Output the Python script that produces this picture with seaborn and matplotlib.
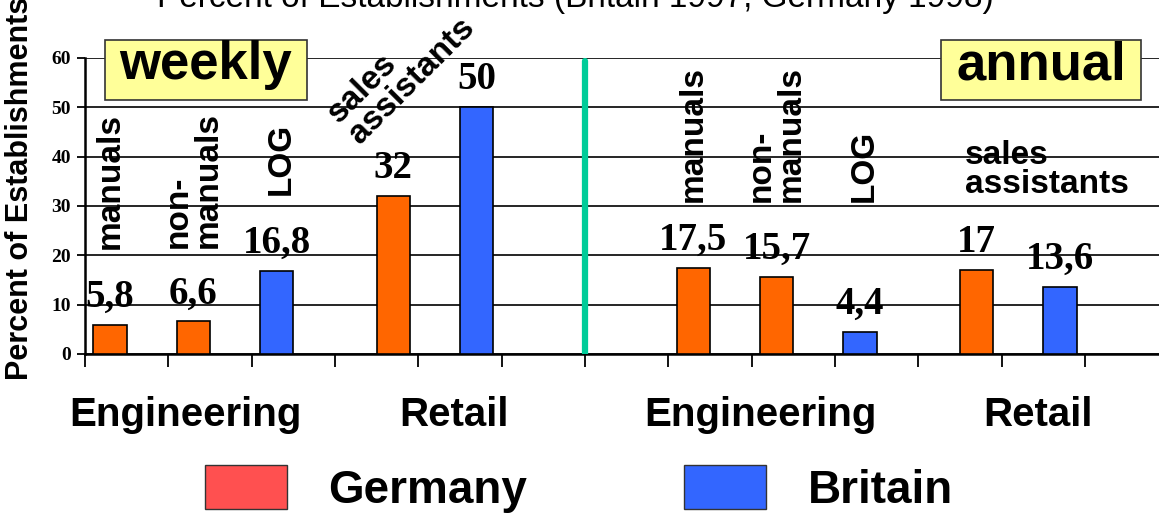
import numpy as np
import pandas as pd
import matplotlib
matplotlib.use("Agg")
import matplotlib.pyplot as plt
import seaborn as sns
from matplotlib.patches import Patch, Rectangle

# ---------------- data ----------------
slot_names = [f"s{i}" for i in range(13)]
bar_slot = ["s0", "s1", "s2", "s3", "s4", "s7", "s8", "s9", "s10", "s11"]
bar_side = ["L", "L", "L", "R", "R", "L", "L", "L", "R", "R"]
bar_country = ["Germany", "Germany", "Britain", "Germany", "Britain",
               "Germany", "Germany", "Britain", "Germany", "Britain"]
bar_value = [5.8, 6.6, 16.8, 32, 50, 17.5, 15.7, 4.4, 17, 13.6]
value_labels = ["5,8", "6,6", "16,8", "32", "50", "17,5", "15,7", "4,4", "17", "13,6"]

group_labels = ["Engineering", "Retail", "Engineering", "Retail"]
group_x = [0.7, 3.93, 7.61, 10.94]

yticks = [0, 10, 20, 30, 40, 50, 60]
title = "Percent of Establishments (Britain 1997, Germany 1998)"
ylabel = "Percent of Establishments"

bar_colors = {"Germany": "#FF6600", "Britain": "#3366FF"}
legend_colors = {"Germany": "#FF5050", "Britain": "#3366FF"}

# ---------------- style ----------------
sns.set_style("white")
plt.rcParams["font.family"] = ["Liberation Sans", "DejaVu Sans"]
plt.rcParams["text.color"] = "black"
plt.rcParams["axes.labelcolor"] = "black"
plt.rcParams["xtick.color"] = "black"
plt.rcParams["ytick.color"] = "black"

W, H = 1159, 518
fig = plt.figure(figsize=(W / 100, H / 100), dpi=100)
ax = fig.add_axes([85 / W, 1 - 354 / H, 1083.3 / W, 296 / H])

df = pd.DataFrame({"slot": bar_slot, "value": bar_value, "side": bar_side})
sns.barplot(data=df, x="slot", y="value", hue="side", order=slot_names,
            hue_order=["L", "R"], dodge=True, width=0.8, errorbar=None,
            palette=["#FF6600", "#3366FF"], edgecolor="black", linewidth=1.2,
            legend=False, ax=ax, zorder=3)

lookup = {(s, sd): (c, lab) for s, sd, c, lab in zip(bar_slot, bar_side, bar_country, value_labels)}
for p in ax.patches:
    if p.get_height() == 0 and p.get_width() == 0:
        continue
    xc = p.get_x() + p.get_width() / 2
    idx = int(round(xc))
    side = "L" if xc < idx else "R"
    key = (slot_names[idx], side)
    if key not in lookup:
        continue
    country, lab = lookup[key]
    p.set_facecolor(bar_colors[country])
    ax.annotate(lab, (xc, p.get_height()), xytext=(0, 13), textcoords="offset points",
                ha="center", va="baseline", fontfamily="Liberation Serif",
                fontweight="bold", fontsize=28, color="black", zorder=5)

ax.set_xlim(-0.5, 12.5)
ax.set_ylim(0, 60)
ax.set_yticks(yticks)
ax.set_yticklabels([str(v) for v in yticks], fontfamily="Liberation Serif",
                   fontweight="bold", fontsize=14, color="black")
ax.set_xticks(np.arange(-0.5, 13, 1))
ax.set_xticklabels([])
ax.set_xlabel("")
ax.set_ylabel("")
ax.tick_params(axis="x", direction="out", length=9, width=1.3, color="black", bottom=True)
ax.tick_params(axis="y", direction="out", length=6, width=1.3, color="black", pad=4, left=True)
ax.yaxis.grid(True, color="black", linewidth=1.2)
ax.set_axisbelow(True)
for s in ["top", "right"]:
    ax.spines[s].set_visible(False)
for s in ["left", "bottom"]:
    ax.spines[s].set_color("black")
    ax.spines[s].set_linewidth(1.8)

# green divider
ax.axvline(5.5, ymin=0, ymax=59.3 / 60, color="#00CC99", linewidth=4.5, zorder=4)

# category labels
lab_kw = dict(fontweight="bold", fontsize=24, color="black", zorder=5)
ax.text(-0.2, 21.3, "manuals", rotation=90, ha="center", va="bottom", **lab_kw)
ax.text(0.8, 21.5, "non-\nmanuals", rotation=90, ha="center", va="bottom",
        multialignment="left", linespacing=0.95, **lab_kw)
ax.text(1.85, 32.2, "LOG", rotation=90, ha="center", va="bottom", **lab_kw)
ax.text(3.30, 57.5, "sales\nassistants", rotation=45, ha="center", va="center",
        multialignment="left", linespacing=0.95, **lab_kw)
ax.text(6.8, 30.8, "manuals", rotation=90, ha="center", va="bottom", **lab_kw)
ax.text(7.8, 30.8, "non-\nmanuals", rotation=90, ha="center", va="bottom",
        multialignment="left", linespacing=0.95, **lab_kw)
ax.text(8.85, 30.8, "LOG", rotation=90, ha="center", va="bottom", **lab_kw)
ax.text(10.06, 37.3, "sales\nassistants", ha="left", va="center",
        multialignment="left", linespacing=0.95, **lab_kw)

# group labels below axis
xt = ax.get_xaxis_transform()
for gx, gl in zip(group_x, group_labels):
    ax.text(gx, -(426 - 354) / 296, gl, transform=xt, ha="center", va="baseline",
            fontweight="bold", fontsize=29, color="black", clip_on=False)

# weekly / annual boxes
for (x0, x1, txt) in [(105, 307, "weekly"), (941, 1141, "annual")]:
    fig.patches.append(Rectangle((x0 / W, 1 - 100 / H), (x1 - x0) / W, 60 / H,
                                 transform=fig.transFigure, facecolor="#FFFF99",
                                 edgecolor="#333333", linewidth=1.2, zorder=6))
    fig.text((x0 + x1) / 2 / W, 1 - 79 / H, txt, ha="center", va="baseline",
             fontweight="bold", fontsize=38, color="black", zorder=7)

# title (mostly cut off at top, as in the original) and y label
fig.text(575 / W, 1 - 7 / H, title, ha="center", va="baseline", fontsize=24, color="black")
fig.text(20 / W, 1 - 188 / H, ylabel, rotation=90, ha="center", va="center",
         fontweight="bold", fontsize=22, color="black")

# legend
handles = [Patch(facecolor=legend_colors[c], edgecolor="#333333", linewidth=1.0)
           for c in ["Germany", "Britain"]]
fig.legend(handles, ["Germany", "Britain"], loc="center left",
           bbox_to_anchor=(205 / W, 1 - 489 / H), ncol=2, frameon=False,
           borderpad=0, borderaxespad=0, handlelength=1.79, handleheight=1.09,
           handletextpad=0.9, columnspacing=3.43,
           prop=dict(family="Liberation Sans", weight="bold", size=33))

fig.savefig("out.png", dpi=100)
